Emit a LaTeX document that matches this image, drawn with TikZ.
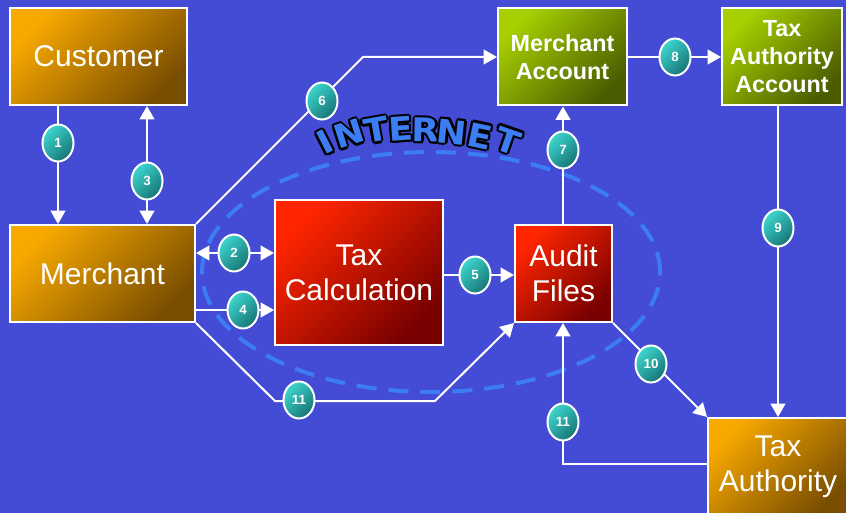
\documentclass[tikz,border=0pt]{standalone}
\usepackage{fontspec}
\setmainfont{Liberation Sans}
\newfontface\inetfont{DejaVu Sans Bold}
\usetikzlibrary{arrows.meta,shapes.geometric}
\definecolor{bg}{HTML}{444BD5}
\definecolor{orL}{HTML}{F8A900}
\definecolor{orD}{HTML}{7A4E00}
\definecolor{rdL}{HTML}{FF2600}
\definecolor{rdD}{HTML}{780000}
\definecolor{grL}{HTML}{A6D000}
\definecolor{grD}{HTML}{4A5C00}
\definecolor{tlL}{HTML}{3DD6CF}
\definecolor{tlD}{HTML}{177575}
\definecolor{inet}{HTML}{3C7DF4}
\tikzset{
  sz/.style 2 args={minimum width=#1*0.75pt, minimum height=#2*0.75pt},
  box/.style={draw=white, line width=1.5pt, inner sep=0pt, text=white, align=center,
    font=\fontsize{22.5}{26.5}\selectfont},
  orbox/.style={box, top color=orL, bottom color=orD, shading angle=45},
  rdbox/.style={box, top color=rdL, bottom color=rdD, shading angle=45},
  grbox/.style={box, top color=grL, bottom color=grD, shading angle=45,
    font=\bfseries\fontsize{17.5}{21}\selectfont},
  num/.style={ellipse, draw=white, line width=1.5pt, top color=tlL, bottom color=tlD,
    shading angle=45, minimum width=31*0.75pt, minimum height=37*0.75pt, inner sep=0pt,
    text=white, font=\bfseries\fontsize{10}{11}\selectfont},
  tip/.tip={Triangle[length=10pt,width=11pt]},
  arr/.style={draw=white, line width=1.5pt, -tip},
  darr/.style={draw=white, line width=1.5pt, tip-tip},
  inetline/.style={draw=inet, line width=3pt, dash pattern=on 15pt off 9pt},
  inetO/.style={text=black, font=\inetfont\fontsize{24.5}{24.5}\selectfont, inner sep=0pt},
  inetF/.style={text=inet, font=\inetfont\fontsize{24.5}{24.5}\selectfont, inner sep=0pt},
}
\begin{document}
\begin{tikzpicture}[x=0.75pt,y=-0.75pt]
\useasboundingbox (0,0) rectangle (846,513);
\clip (0,0) rectangle (846,513);
\fill[bg] (0,0) rectangle (846,513);

% internet cloud
\draw[inetline] (431,272) ellipse [x radius=171.75pt, y radius=90pt];
\foreach \ch/\x/\y/\r [count=\i] in {I/325/142/27, N/349/134/18, T/376/130/10, E/401/129/4, R/426/130/-1, N/452/132/-6, E/480/136/-12, T/508/141/-19}{
  \foreach \dx/\dy [count=\j] in {1.7/0, -1.7/0, 0/1.7, 0/-1.7, 1.2/1.2, 1.2/-1.2, -1.2/1.2, -1.2/-1.2}{
    \node[inetO, xshift=\dx pt, yshift=\dy pt, rotate=\r, xscale=1.1] (lo\i-\j) at (\x,\y) {\ch};
  }
  \node[inetF, rotate=\r, xscale=1.1] (lf\i) at (\x,\y) {\ch};
}

% boxes
\node[orbox, sz={177}{97}] (cust) at (98.5,56.5) {Customer};
\node[orbox, sz={185}{97}] (merch) at (102.5,273.5) {Merchant};
\node[rdbox, sz={168}{145}] (taxc) at (359,272.5) {Tax\\Calculation};
\node[rdbox, sz={97}{97}] (audit) at (563.5,273.5) {Audit\\Files};
\node[grbox, sz={129}{97}] (macc) at (562.5,57) {Merchant\\Account};
\node[grbox, sz={120}{97}] (taacc) at (782,57) {Tax\\Authority\\Account};
\node[orbox, sz={140}{98}] (taxa) at (778,467) {Tax\\Authority};

% connectors
\coordinate (c6) at (363,57);
\coordinate (c11a) at (275,401);
\coordinate (c11b) at (435,401);
\coordinate (c11c) at (563,464);
\draw[arr] (58,0 |- cust.south) -- (58,0 |- merch.north);
\draw[darr] (147,0 |- cust.south) -- (147,0 |- merch.north);
\draw[darr] (merch.east |- 0,253) -- (taxc.west |- 0,253);
\draw[arr] (merch.east |- 0,310) -- (taxc.west |- 0,310);
\draw[arr] (taxc.east |- 0,275) -- (audit.west |- 0,275);
\draw[arr] (merch.north east) -- (c6) -- (macc.west);
\draw[arr] (563,0 |- audit.north) -- (563,0 |- macc.south);
\draw[arr] (macc.east) -- (taacc.west);
\draw[arr] (778,0 |- taacc.south) -- (778,0 |- taxa.north);
\draw[arr] (audit.south east) -- (taxa.north west);
\draw[arr] (merch.south east) -- (c11a) -- (c11b) -- (audit.south west);
\draw[arr] (taxa.west |- c11c) -- (c11c) -- (563,0 |- audit.south);

% numbers
\node[num] (n1) at (58,143) {1};
\node[num] (n2) at (234,253) {2};
\node[num] (n3) at (147,181) {3};
\node[num] (n4) at (243,310) {4};
\node[num] (n5) at (475,275) {5};
\node[num] (n6) at (322,101) {6};
\node[num] (n7) at (563,150) {7};
\node[num] (n8) at (675,57) {8};
\node[num] (n9) at (778,228) {9};
\node[num] (n10) at (651,364) {10};
\node[num] (n11a) at (299,400) {11};
\node[num] (n11b) at (563,422) {11};
\end{tikzpicture}
\end{document}
